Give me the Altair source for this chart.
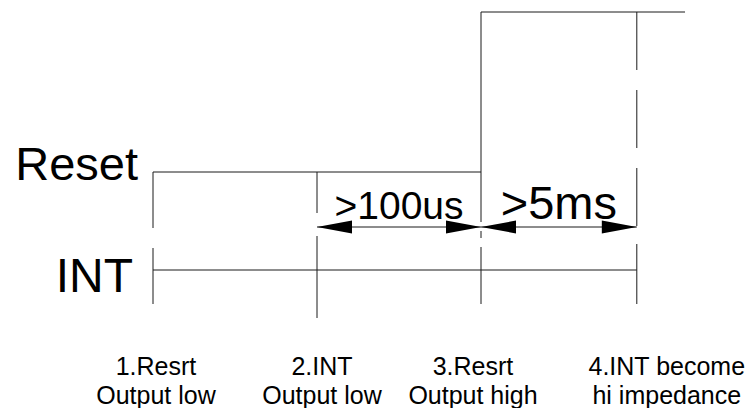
import altair as alt
import pandas as pd

# ---- data (time in event units, levels in diagram units from top) ----
event_t = [0.0, 1.0, 2.0, 2.95]

reset_t = [0.0, 2.0, 2.0, 3.244]
reset_lvl = [164, 164, 4, 4]

int_t = [0.0, 2.95]
int_lvl = [262, 262]

arrow_lvl = 219

# vertical marker segments
rule_t = [0.0, 0.0, 1.0, 1.0, 2.0, 2.0, 2.0, 2.95, 2.95, 2.95, 2.95]
rule_y1 = [164, 240, 164, 228, 164, 223, 239, 4, 82, 160, 236]
rule_y2 = [220, 296, 205, 310, 214, 230, 296, 62, 140, 218, 296]

span_start = [1.0, 2.0]
span_end = [2.0, 2.95]
span_labels = [">100us", ">5ms"]

head_t = [1.0, 2.0, 2.0, 2.95]
head_dir = ["left", "right", "left", "right"]

bottom_line1 = ["1.Resrt", "2.INT", "3.Resrt", "4.INT become"]
bottom_line2 = ["Output low", "Output low", "Output high", "hi impedance"]

# ---- layout ----
W, H = 739, 400
xs = alt.Scale(domain=[-145 / 164, (W - 145) / 164], nice=False, zero=False)
ys = alt.Scale(domain=[0, H], reverse=True, nice=False, zero=False)
FONT = "Liberation Sans"
INK = "#1a1a1a"


def X(f="t"):
    return alt.X(f"{f}:Q", scale=xs, axis=None)


def Y(f="v"):
    return alt.Y(f"{f}:Q", scale=ys, axis=None)


reset_df = pd.DataFrame({"t": reset_t, "v": reset_lvl, "o": range(len(reset_t))})
reset_line = alt.Chart(reset_df).mark_line(color=INK, strokeWidth=1).encode(
    x=X(), y=Y(), order="o:Q"
)

int_df = pd.DataFrame({"t": int_t, "v": int_lvl})
int_line = alt.Chart(int_df).mark_line(color=INK, strokeWidth=1).encode(x=X(), y=Y())

rules_df = pd.DataFrame({"t": rule_t, "v": rule_y1, "v2": rule_y2})
rules = alt.Chart(rules_df).mark_rule(color=INK, strokeWidth=1).encode(
    x=X(), y=Y(), y2="v2:Q"
)

span_df = pd.DataFrame({
    "t": span_start, "t2": span_end, "v": [arrow_lvl] * len(span_start),
    "mid": [(a + b) / 2 for a, b in zip(span_start, span_end)],
    "label": span_labels, "fs": [39, 47],
})
shafts = alt.Chart(span_df).mark_rule(color=INK, strokeWidth=1).encode(
    x=X(), x2="t2:Q", y=Y()
)
span_text = alt.Chart(span_df).mark_text(
    font=FONT, baseline="alphabetic", align="center", dy=-8, color="black"
).encode(x=X("mid"), y=Y(), text="label:N", size=alt.Size("fs:Q", scale=None))

LEFT = "M0,0 L2,-0.37 L2,0.37 Z"
RIGHT = "M0,0 L-2,-0.37 L-2,0.37 Z"
head_df = pd.DataFrame({"t": head_t, "v": [arrow_lvl] * len(head_t), "dir": head_dir})
heads = alt.Chart(head_df).mark_point(
    filled=True, size=1225, color="black", opacity=1, strokeWidth=0
).encode(
    x=X(), y=Y(),
    shape=alt.Shape("dir:N", scale=alt.Scale(domain=["left", "right"], range=[LEFT, RIGHT]), legend=None),
)

names_df = pd.DataFrame({"t": [0.0], "v": [reset_lvl[0]]})
reset_label = alt.Chart(names_df).mark_text(
    text="Reset", font=FONT, fontSize=47, align="right", baseline="alphabetic",
    dx=-15, dy=8, color="black"
).encode(x=X(), y=Y())
int_name_df = pd.DataFrame({"t": [0.0], "v": [int_lvl[0]]})
int_label = alt.Chart(int_name_df).mark_text(
    text="INT", font=FONT, fontSize=48, align="right", baseline="alphabetic",
    dx=-20, dy=22, color="black"
).encode(x=X(), y=Y())

label_dx = [3, 5, -8, 30]
label_fs = [25, 25, 25, 25]
bottom_layers = []
for i, (t, l1, l2) in enumerate(zip(event_t, bottom_line1, bottom_line2)):
    d = pd.DataFrame({"t": [t], "l1": [l1], "l2": [l2]})
    base = alt.Chart(d)
    bottom_layers.append(base.mark_text(
        font=FONT, fontSize=label_fs[i], align="center", baseline="alphabetic",
        dx=label_dx[i], color="black"
    ).encode(x=X(), y=alt.value(367), text="l1:N"))
    bottom_layers.append(base.mark_text(
        font=FONT, fontSize=label_fs[i], align="center", baseline="alphabetic",
        dx=label_dx[i], color="black"
    ).encode(x=X(), y=alt.value(396), text="l2:N"))

chart = alt.layer(
    reset_line, int_line, rules, shafts, heads, span_text,
    reset_label, int_label, *bottom_layers
).properties(
    width=W, height=H, padding=0, background="white",
    autosize=alt.AutoSizeParams(type="none"),
).configure_view(stroke=None)

chart.save("out.html", embed_options={"renderer": "svg", "actions": False})
